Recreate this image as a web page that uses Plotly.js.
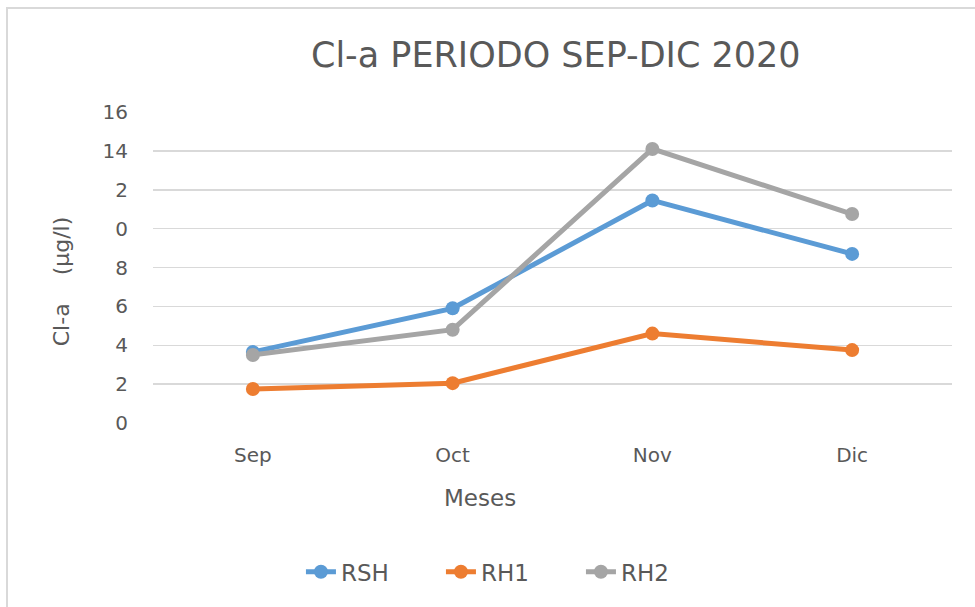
<!DOCTYPE html>
<html>
<head>
<meta charset="utf-8">
<script src="https://cdn.plot.ly/plotly-3.0.1.min.js"></script>
<style>
html,body{margin:0;padding:0;background:#fff;}
#wrap{position:relative;width:975px;height:607px;}
#chart{width:975px;height:607px;}
#frame{position:absolute;left:6px;top:7px;right:0;bottom:0;border-top:2px solid #d9d9d9;border-left:2px solid #d9d9d9;pointer-events:none;}
</style>
</head>
<body>
<div id="wrap"><div id="chart"></div><div id="frame"></div></div>
<script>
const months = ["Sep", "Oct", "Nov", "Dic"];
const rsh = [3.65, 5.9, 11.45, 8.7];
const rh1 = [1.75, 2.05, 4.6, 3.75];
const rh2 = [3.5, 4.8, 14.1, 10.75];
const yTickVals = [0, 2, 4, 6, 8, 10, 12, 14, 16];
const yTickText = ["0", "2", "4", "6", "8", "0", "2", "14", "16"];
const xTitle = "Meses";
const yTitle = "Cl-a&nbsp;&nbsp;&nbsp;&nbsp;(µg/l)&nbsp;&nbsp;&nbsp;&nbsp;";
const chartTitle = "Cl-a PERIODO SEP-DIC 2020";

const font = "'DejaVu Sans', 'Open Sans', sans-serif";
const txt = "#595959";

function series(name, y, color) {
  return {
    x: months, y: y, name: name, type: "scatter", mode: "lines+markers",
    line: {color: color, width: 5},
    marker: {color: color, size: 14}
  };
}

const data = [
  series("RSH", rsh, "#5b9bd5"),
  series("RH1", rh1, "#ed7d31"),
  series("RH2", rh2, "#a5a5a5")
];

const layout = {
  width: 975, height: 607,
  margin: {l: 153, r: 23, t: 112, b: 184, autoexpand: false},
  paper_bgcolor: "#fff", plot_bgcolor: "#fff",
  font: {family: font, color: txt},
  title: {text: chartTitle, font: {size: 35, color: txt, family: font},
          x: 0.57, xanchor: "center", y: 0.91, yanchor: "middle"},
  xaxis: {
    type: "category", range: [-0.5, 3.5], showgrid: false, zeroline: false,
    showline: false, ticks: "", ticklabelstandoff: 18,
    tickfont: {size: 20, color: txt}
  },
  yaxis: {
    range: [0, 16], tickvals: yTickVals, ticktext: yTickText,
    showgrid: true, gridcolor: "#d9d9d9", gridwidth: 1.5, zeroline: false,
    showline: false, ticks: "", ticklabelstandoff: 24,
    tickfont: {size: 20, color: txt},
    title: {text: yTitle, font: {size: 22, color: txt}, standoff: 26}
  },
  annotations: [{
    text: xTitle, xref: "paper", yref: "paper", x: 0.409, y: -0.241,
    xanchor: "center", yanchor: "middle", showarrow: false,
    font: {size: 23, color: txt, family: font}
  }],
  showlegend: true,
  legend: {orientation: "h", x: 0.448, xanchor: "center", yref: "container", y: 0.058, yanchor: "middle",
           font: {size: 23, color: txt}, bgcolor: "rgba(0,0,0,0)",
           entrywidth: 95, entrywidthmode: "pixels"}
};

Plotly.newPlot("chart", data, layout, {displayModeBar: false, staticPlot: true});
</script>
</body>
</html>
